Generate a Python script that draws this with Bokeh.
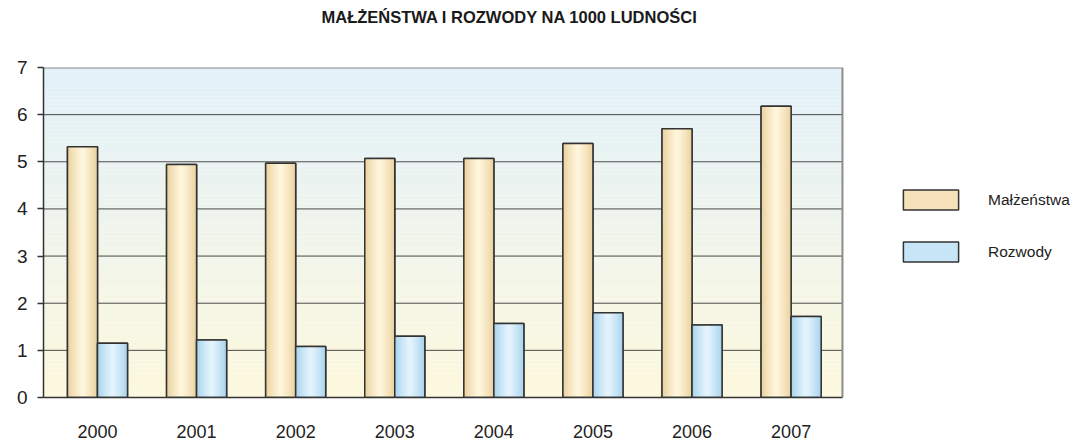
import numpy as np
from bokeh.plotting import figure
from bokeh.models import (ColumnDataSource, Range1d, FixedTicker, Legend, LegendItem, Title)
from bokeh.transform import dodge
from bokeh.embed import file_html
from bokeh.resources import INLINE

# ---- data ----
years = ["2000", "2001", "2002", "2003", "2004", "2005", "2006", "2007"]
malzenstwa = [5.32, 4.94, 4.97, 5.07, 5.07, 5.39, 5.70, 6.18]
rozwody = [1.15, 1.22, 1.08, 1.30, 1.57, 1.80, 1.54, 1.72]
series_names = ["Małżeństwa", "Rozwody"]
y_ticks = [0, 1, 2, 3, 4, 5, 6, 7]
title_text = "MAŁŻEŃSTWA I ROZWODY NA 1000 LUDNOŚCI"

FONT = "'Liberation Sans Narrow', 'Arial Narrow', 'Liberation Sans', Arial, sans-serif"
W = 0.303              # bar width (category units)
XL, XR = -0.545, 7.518  # extent of the plotting area (category units)

idx = list(range(len(years)))
src = ColumnDataSource(dict(x=idx, m=malzenstwa, r=rozwody))

# frame spans to the right edge so the legend can live inside it
p = figure(width=1071, height=441, output_backend="svg", toolbar_location=None,
           title=None,
           x_range=Range1d(XL, XL + 1028 / 99.09), y_range=Range1d(0, 7),
           min_border_left=43, min_border_right=0, min_border_top=66,
           min_border_bottom=44, background_fill_color="white",
           border_fill_color="white")
p.outline_line_color = None

# title (spacer first = nearest to frame, then the real title)
p.add_layout(Title(text=" ", text_font_size="2px", standoff=33), "above")
p.add_layout(Title(text=title_text, text_font=FONT, text_font_style="bold",
                   text_font_size="16.5px", text_color="#1a1a1a",
                   align="left", offset=278, standoff=10), "above")

# background gradient (light cream bottom -> light blue top)
def mix(c1, c2, t):
    return "#%02x%02x%02x" % tuple(int(round(a + (b - a) * t)) for a, b in zip(c1, c2))

nb = 80
edges = np.linspace(0, 7, nb + 1)
bottom_c = (253, 248, 221)
top_c = (226, 241, 250)
band_cols = [mix(bottom_c, top_c, (i + 0.5) / nb) for i in range(nb)]
p.quad(left=XL, right=XR, bottom=edges[:-1], top=edges[1:], fill_color=band_cols,
       line_color=None, level="image")

# horizontal grid lines restricted to the plotting area
p.xgrid.visible = False
p.ygrid.visible = False
p.segment(x0=XL, x1=XR, y0=y_ticks[1:-1], y1=y_ticks[1:-1],
          line_color="#4a4a4a", line_width=1, level="underlay")
# top and right border of the plotting area
p.segment(x0=[XL, XR], x1=[XR, XR], y0=[7, 0], y1=[7, 7],
          line_color="#8c8c8c", line_width=2, level="underlay")

# bars with cylinder-like shading
def shaded_bars(field, offset, edge_c, mid_c, legend_fill):
    xs = dodge("x", offset, range=None)
    base = p.vbar(x=xs, top=field, width=W, bottom=0, source=src,
                  fill_color=legend_fill, line_color="#333333", line_width=1.5)
    n = 12
    for k in range(n):
        t = k / (n - 1)
        w = W * (1 - 0.9 * t)
        p.vbar(x=xs, top=field, width=w, bottom=0, source=src,
               fill_color=mix(edge_c, mid_c, t ** 0.8), line_color=None)
    p.vbar(x=xs, top=field, width=W, bottom=0, source=src,
           fill_color=None, line_color="#333333", line_width=1.5)
    return base

r_m = shaded_bars("m", -W / 2, (234, 208, 157), (254, 246, 220), "#f5e2ba")
r_r = shaded_bars("r", W / 2, (166, 211, 237), (227, 243, 252), "#c6e6f7")

# axes
p.yaxis.ticker = FixedTicker(ticks=y_ticks)
p.yaxis.axis_line_color = "#333333"
p.yaxis.axis_line_width = 1.5
p.yaxis.major_tick_line_color = "#333333"
p.yaxis.major_tick_line_width = 1.5
p.yaxis.major_tick_out = 6
p.yaxis.major_tick_in = 0
p.yaxis.minor_tick_line_color = None
p.yaxis.major_label_text_font = FONT
p.yaxis.major_label_text_font_size = "19px"
p.yaxis.major_label_text_color = "#222222"
p.yaxis.major_label_standoff = 10

p.xaxis.ticker = FixedTicker(ticks=idx)
p.xaxis.bounds = (XL, XR)
p.xaxis.major_label_overrides = {i: y for i, y in zip(idx, years)}
p.xaxis.axis_line_color = "#333333"
p.xaxis.axis_line_width = 1.5
p.xaxis.major_tick_line_color = None
p.xaxis.minor_tick_line_color = None
p.xaxis.major_label_text_font = FONT
p.xaxis.major_label_text_font_size = "18px"
p.xaxis.major_label_text_color = "#222222"
p.xaxis.major_label_standoff = 21

# legend (inside the wide frame, right of the plotting area)
legend = Legend(items=[LegendItem(label=series_names[0], renderers=[r_m]),
                       LegendItem(label=series_names[1], renderers=[r_r])],
                location=(853, 133), orientation="vertical",
                glyph_width=69, glyph_height=25, label_height=25,
                spacing=27, padding=0, margin=0, label_standoff=23,
                border_line_color=None, background_fill_alpha=0,
                label_text_font=FONT, label_text_font_size="15.5px",
                label_text_color="#222222")
p.add_layout(legend, "center")

open("out.html", "w").write(file_html(p, INLINE))
